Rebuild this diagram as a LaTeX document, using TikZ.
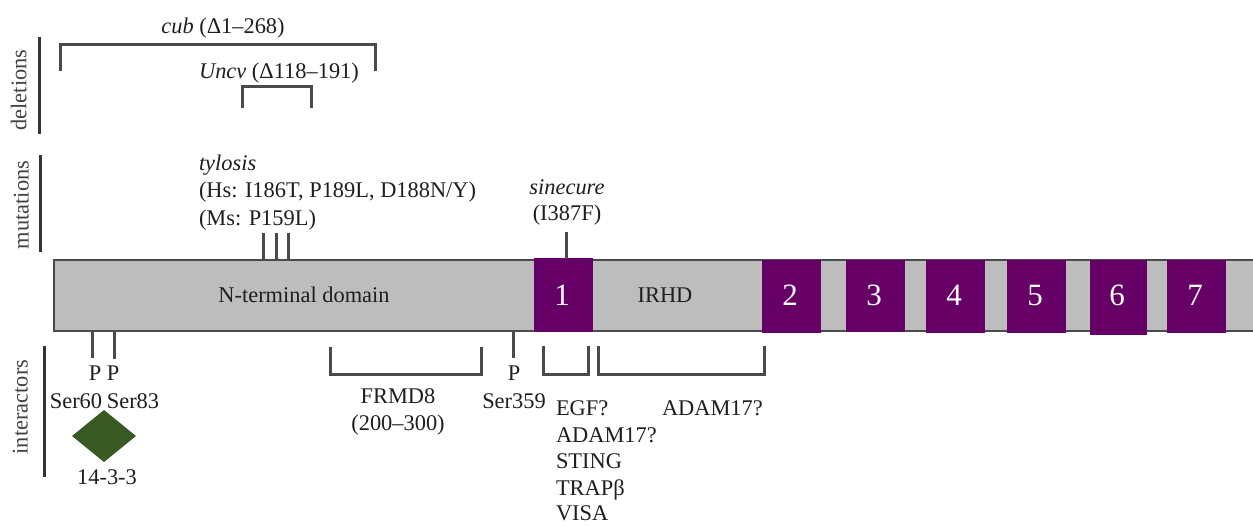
\documentclass[tikz,border=0pt]{standalone}
\usepackage{fontspec}
\setmainfont{Liberation Serif}
\definecolor{barfill}{HTML}{BDBDBD}
\definecolor{barline}{HTML}{4A4A4A}
\definecolor{domainfill}{HTML}{660066}
\definecolor{leaf}{HTML}{3A5A24}
\definecolor{ink}{HTML}{1E1E1E}
\tikzset{
  lbl/.style={inner sep=0pt,outer sep=0pt,text=ink,text height=19pt,text depth=4pt,font=\fontsize{22.4}{26}\selectfont},
  lblw/.style={lbl,anchor=west},
  sidelbl/.style={lbl,rotate=90,text=ink!85},
  link/.style={draw=barline,line width=2.6pt,line cap=butt,line join=miter},
  sidebar/.style={draw=ink!90,line width=2.6pt},
  domainbox/.style={draw=none,inner sep=0pt,outer sep=0pt,text=white,font=\fontsize{31}{34}\selectfont},
}
\newcommand{\dom}[6]{% name, x0, x1, y0, y1, text
  \path[fill=domainfill] (#2,#4) rectangle (#3,#5);
  \node[domainbox] (#1) at ({(#2+#3)/2-1.5},295) {#6};
}
\begin{document}
\begin{tikzpicture}[x=1pt,y=-1pt]
\useasboundingbox (0,0) rectangle (1253,525);
\fill[white] (0,0) rectangle (1253,525);

% main bar
\coordinate (barNW) at (54,260);
\coordinate (barSW) at (54,331);
\coordinate (barNE) at (1253,260);
\coordinate (barSE) at (1253,331);
\path[fill=barfill,draw=barline,line width=2.4pt] (barNE) -- (barNW) -- (barSW) -- (barSE);
\node[lbl] (nterm) at (304,295) {N-terminal domain};
\node[lbl] (irhd) at (665,295) {IRHD};

% domains
\dom{d1}{534}{593}{258}{332}{1}
\dom{d2}{762}{821}{260}{333}{2}
\dom{d3}{846}{905}{260}{332}{3}
\dom{d4}{926}{985}{260}{333}{4}
\dom{d5}{1007}{1066}{260}{333}{5}
\dom{d6}{1090}{1147}{260}{335}{6}
\dom{d7}{1167}{1226}{260}{333}{7}

% side bars
\coordinate (delA) at (39.5,37); \coordinate (delB) at (39.5,134);
\coordinate (mutA) at (40.5,155); \coordinate (mutB) at (40.5,252);
\coordinate (intA) at (44.5,346); \coordinate (intB) at (44.5,477);
\draw[sidebar] (delA) -- (delB);
\draw[sidebar] (mutA) -- (mutB);
\draw[sidebar] (intA) -- (intB);
\node[sidelbl] (deletions) at (19,90) {deletions};
\node[sidelbl] (mutations) at (21,205) {mutations};
\node[sidelbl] (interactors) at (20,407) {interactors};

% deletions
\node[lbl] (cub) at (223,26) {\textit{cub} (Δ1–268)};
\node[lbl] (uncv) at (279,71) {\textit{Uncv} (Δ118–191)};
\coordinate (cubL) at (60.5,71); \coordinate (cubLt) at (60.5,44.5);
\coordinate (cubRt) at (375.5,44.5); \coordinate (cubR) at (375.5,71);
\draw[link] (cubL) -- (cubLt) -- (cubRt) -- (cubR);
\coordinate (unL) at (242.5,108); \coordinate (unLt) at (242.5,86.5);
\coordinate (unRt) at (311.5,86.5); \coordinate (unR) at (311.5,108);
\draw[link] (unL) -- (unLt) -- (unRt) -- (unR);

% mutations
\node[lblw] (tyl) at (199,163) {\textit{tylosis}};
\node[lblw] (hs) at (199,190) {(Hs: I186T, P189L, D188N/Y)};
\node[lblw] (ms) at (199,218) {(Ms: P159L)};
\coordinate (t1) at (263.5,233); \coordinate (t1b) at (263.5,260);
\coordinate (t2) at (276.5,233); \coordinate (t2b) at (276.5,260);
\coordinate (t3) at (288.5,233); \coordinate (t3b) at (288.5,260);
\draw[link] (t1) -- (t1b);
\draw[link] (t2) -- (t2b);
\draw[link] (t3) -- (t3b);
\node[lbl] (sine) at (567,187) {\textit{sinecure}};
\node[lbl] (i387) at (567,213) {(I387F)};
\coordinate (s1) at (566.5,232); \coordinate (s1b) at (566.5,259);
\draw[link] (s1) -- (s1b);

% phosphosites
\coordinate (p1t) at (92.5,331); \coordinate (p1b) at (92.5,358);
\coordinate (p2t) at (114.5,331); \coordinate (p2b) at (114.5,359);
\coordinate (p3t) at (513.5,331); \coordinate (p3b) at (513.5,358);
\draw[link] (p1t) -- (p1b);
\draw[link] (p2t) -- (p2b);
\draw[link] (p3t) -- (p3b);
\node[lbl] (pa) at (95,373) {P};
\node[lbl] (pb) at (113,373) {P};
\node[lbl] (pc) at (514,373) {P};
\node[lbl] (s60) at (76,401) {Ser60};
\node[lbl] (s83) at (133,401) {Ser83};
\node[lbl] (s359) at (514,401) {Ser359};

% 14-3-3
\coordinate (dmW) at (72,436); \coordinate (dmN) at (104,410);
\coordinate (dmE) at (136,436); \coordinate (dmS) at (104,462);
\fill[leaf] (dmW) -- (dmN) -- (dmE) -- (dmS) -- cycle;
\node[lbl] (f1433) at (107,477) {14-3-3};

% FRMD8
\coordinate (frA) at (330.5,347); \coordinate (frB) at (330.5,374.5);
\coordinate (frC) at (481.5,374.5); \coordinate (frD) at (481.5,347);
\draw[link] (frA) -- (frB) -- (frC) -- (frD);
\node[lbl] (frmd) at (398,396) {FRMD8};
\node[lbl] (frr) at (398,423) {(200–300)};

% IRHD brackets
\coordinate (eA) at (543.5,346); \coordinate (eB) at (543.5,374.5);
\coordinate (eC) at (588.5,374.5); \coordinate (eD) at (588.5,346);
\draw[link] (eA) -- (eB) -- (eC) -- (eD);
\coordinate (aA) at (598.5,346); \coordinate (aB) at (598.5,374.5);
\coordinate (aC) at (764.5,374.5); \coordinate (aD) at (764.5,346);
\draw[link] (aA) -- (aB) -- (aC) -- (aD);

\node[lblw] (egf) at (556,408) {EGF?};
\node[lblw] (ad1) at (556,435) {ADAM17?};
\node[lblw] (sting) at (556,461) {STING};
\node[lblw] (trap) at (556,488) {TRAPβ};
\node[lblw,anchor=base west,text depth=0pt] (visa) at (556,520) {VISA};
\node[lblw] (ad2) at (662,408) {ADAM17?};
\end{tikzpicture}
\end{document}
